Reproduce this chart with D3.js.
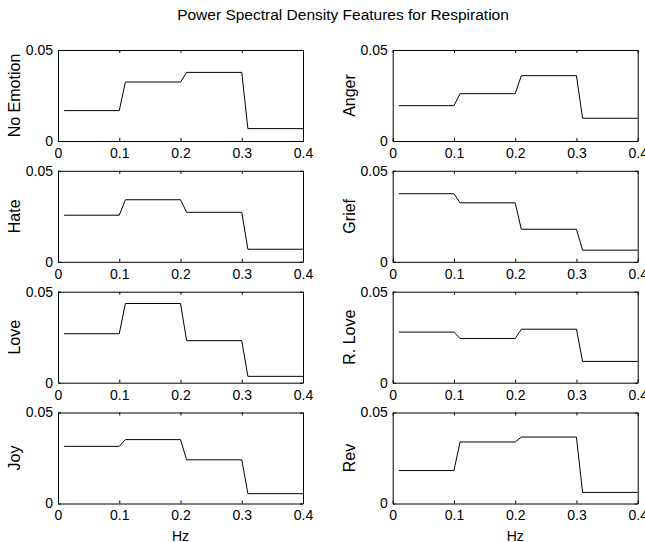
<!DOCTYPE html>
<html>
<head>
<meta charset="utf-8">
<script src="https://cdn.jsdelivr.net/npm/d3@7"></script>
<style>
  html, body { margin: 0; padding: 0; background: #fff; }
  svg { display: block; font-family: "Liberation Sans", Arial, Helvetica, sans-serif; }
</style>
</head>
<body>
<svg id="chart" width="645" height="542"></svg>
<script>
// ---- data ----
const title = "Power Spectral Density Features for Respiration";
const xLabel = "Hz";
const freqs = [0.01, 0.1, 0.11, 0.2, 0.21, 0.3, 0.31, 0.4];
const xTicks = [0, 0.1, 0.2, 0.3, 0.4];
const yTicks = [0, 0.05];
const emotions = ["No Emotion", "Anger", "Hate", "Grief", "Love", "R. Love", "Joy", "Rev"];
const noEmotion = [0.0167, 0.0167, 0.0324, 0.0324, 0.0377, 0.0377, 0.0068, 0.0068];
const anger     = [0.0194, 0.0194, 0.0260, 0.0260, 0.0359, 0.0359, 0.0125, 0.0125];
const hate      = [0.0256, 0.0256, 0.0341, 0.0341, 0.0272, 0.0272, 0.0069, 0.0069];
const grief     = [0.0374, 0.0374, 0.0324, 0.0324, 0.0179, 0.0179, 0.0064, 0.0064];
const love      = [0.0269, 0.0269, 0.0435, 0.0435, 0.0231, 0.0231, 0.0035, 0.0035];
const rLove     = [0.0278, 0.0278, 0.0243, 0.0243, 0.0294, 0.0294, 0.0117, 0.0117];
const joy       = [0.0314, 0.0314, 0.0351, 0.0351, 0.0240, 0.0240, 0.0054, 0.0054];
const rev       = [0.0181, 0.0181, 0.0338, 0.0338, 0.0365, 0.0365, 0.0061, 0.0061];
const series = [noEmotion, anger, hate, grief, love, rLove, joy, rev];

// ---- layout ----
const svg = d3.select("#chart");
const colLeft = [58, 392.7];
const rowTop = [50, 170.8, 291.7, 412.5];
const pw = 245, ph = 91;
const fmt = d3.format("~g");

svg.append("text")
  .attr("x", 343).attr("y", 20)
  .attr("text-anchor", "middle")
  .style("font-size", "15.5px")
  .text(title);

emotions.forEach((name, i) => {
  const col = i % 2, row = Math.floor(i / 2);
  const left = colLeft[col], top = rowTop[row];
  const g = svg.append("g").attr("transform", `translate(${left},${top})`);
  const x = d3.scaleLinear().domain([0, 0.4]).range([0, pw]);
  const y = d3.scaleLinear().domain([0, 0.05]).range([ph, 0]);

  // bottom axis
  g.append("g").attr("transform", `translate(0,${ph})`)
    .call(d3.axisBottom(x).tickValues(xTicks).tickFormat(fmt).tickSize(-3).tickSizeOuter(0).tickPadding(7));
  // top axis
  g.append("g")
    .call(d3.axisTop(x).tickValues(xTicks).tickFormat("").tickSize(-3).tickSizeOuter(0));
  // left axis
  g.append("g")
    .call(d3.axisLeft(y).tickValues(yTicks).tickFormat(fmt).tickSize(-3).tickSizeOuter(0).tickPadding(5));
  // right axis
  g.append("g").attr("transform", `translate(${pw},0)`)
    .call(d3.axisRight(y).tickValues(yTicks).tickFormat("").tickSize(-3).tickSizeOuter(0));

  g.selectAll(".tick text").style("font-size", "14px").attr("fill", "#000");
  g.selectAll(".domain, .tick line").attr("stroke", "#000").attr("stroke-width", 1);

  // line
  const line = d3.line().x((d, k) => x(freqs[k])).y(d => y(d));
  g.append("path")
    .datum(series[i])
    .attr("fill", "none")
    .attr("stroke", "#000")
    .attr("stroke-width", 1)
    .attr("d", line);

  // y label
  g.append("text")
    .attr("transform", `translate(-38,${ph / 2}) rotate(-90)`)
    .attr("text-anchor", "middle")
    .style("font-size", "16px")
    .text(name);

  if (row === 3) {
    g.append("text")
      .attr("x", pw / 2).attr("y", ph + 37)
      .attr("text-anchor", "middle")
      .style("font-size", "14px")
      .text(xLabel);
  }
});
</script>
</body>
</html>
